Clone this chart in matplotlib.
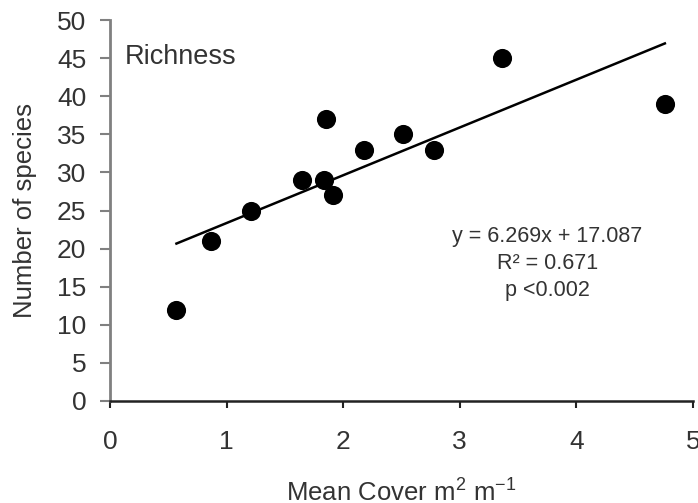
import matplotlib.pyplot as plt
import numpy as np

plt.rcParams['font.family'] = ['Liberation Sans', 'DejaVu Sans']
plt.rcParams['mathtext.fontset'] = 'custom'
plt.rcParams['mathtext.rm'] = 'Liberation Sans'

# Mean cover (m2 m-1) vs number of species
cover = [0.57, 0.87, 1.21, 1.65, 1.85, 1.84, 1.91, 2.18, 2.51, 2.78, 3.36, 4.76]
species = [12, 21, 25, 29, 37, 29, 27, 33, 35, 33, 45, 39]

slope = 6.269
intercept = 17.087

text_color = '#333333'

fig = plt.figure(figsize=(6.98, 5.03), dpi=100)
ax = fig.add_axes([0.1576, 0.2028, 0.835, 0.7574])

ax.scatter(cover, species, s=190, color='black', zorder=3, linewidths=0)

# regression line over the data range
xs = np.array([min(cover), max(cover)])
ax.plot(xs, slope * xs + intercept, color='black', linewidth=1.8)

ax.set_xlim(0, 5)
ax.set_ylim(0, 50)
ax.set_xticks(range(0, 6))
ax.set_yticks(range(0, 51, 5))

for s in ['top', 'right']:
    ax.spines[s].set_visible(False)
ax.spines['left'].set_color('#808080')
ax.spines['left'].set_linewidth(2)
ax.spines['bottom'].set_color('#222222')
ax.spines['bottom'].set_linewidth(1.8)

ax.tick_params(axis='y', direction='out', length=7, width=1.5, color='#808080',
               labelsize=19, labelcolor=text_color, pad=10)
ax.tick_params(axis='x', direction='out', length=5, width=1.5, color='#222222',
               labelsize=19, labelcolor=text_color, pad=16)

# axis titles placed in figure coordinates
fig.text(25 / 698, 1 - 210 / 503, 'Number of species', fontsize=18.5, color=text_color,
         rotation=90, ha='center', va='center')
fig.text(401 / 698, 1 - 492 / 503, 'Mean Cover m$^{2}$ m$^{-1}$', fontsize=18.5,
         color=text_color, ha='center', va='center')

ax.text(0.13, 45.2, 'Richness', fontsize=19.5, color=text_color, va='center', ha='left')

ax.text(3.75, 21.6, 'y = 6.269x + 17.087', fontsize=15.5, color=text_color,
        ha='center', va='center')
ax.text(3.75, 18.1, 'R² = 0.671', fontsize=15.5, color=text_color,
        ha='center', va='center')
ax.text(3.75, 14.5, 'p <0.002', fontsize=15.5, color=text_color,
        ha='center', va='center')

fig.savefig('out.png', dpi=100)
